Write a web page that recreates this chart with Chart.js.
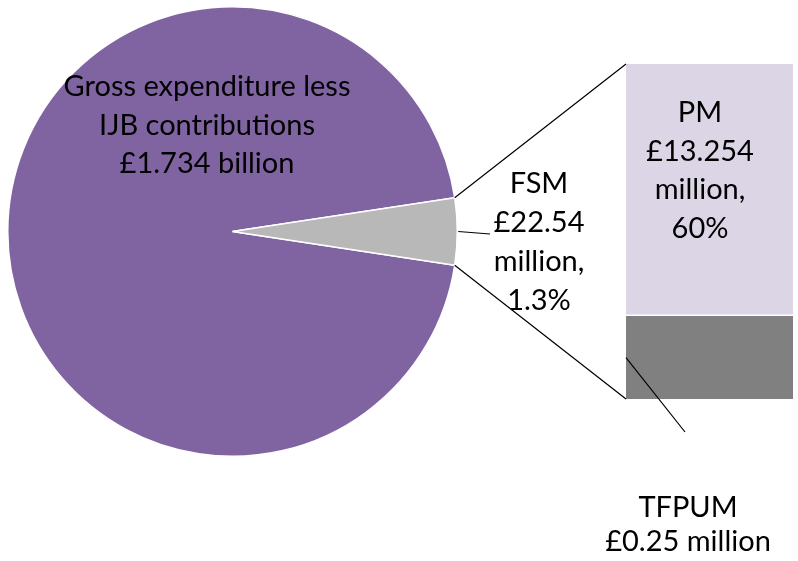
<!DOCTYPE html>
<html>
<head>
<meta charset="utf-8">
<script src="https://cdn.jsdelivr.net/npm/chart.js@4/dist/chart.umd.min.js"></script>
<style>
  html, body { margin: 0; padding: 0; background: #ffffff; }
  #wrap { position: relative; width: 798px; height: 561px; }
  canvas { position: absolute; left: 0; top: 0; }
</style>
</head>
<body>
<div id="wrap">
  <canvas id="pie" width="798" height="561"></canvas>
  <canvas id="bar" width="798" height="561"></canvas>
</div>
<script>
// ---- data ----
const pieCategories = ['Gross expenditure less IJB contributions', 'FSM'];
const pieShares = [95.2, 4.8];            // drawn slice sizes (share of circle, %)
const barCategories = ['TFPUM', 'PM'];     // bottom to top
const barShares = [24.7, 75.3];           // drawn segment heights (share of bar, %)

const pieLabelText = [
  ['Gross expenditure less', 'IJB contributions', '£1.734 billion'],
  ['FSM', '£22.54', 'million,', '1.3%']
];
const barLabelText = [
  ['TFPUM', '£0.25 million'],
  ['PM', '£13.254', 'million,', '60%']
];

const pieColors = ['#8064A2', '#B8B8B8'];
const barColors = ['#808080', '#DCD5E6'];
const FONT = '29px Lato, "Liberation Sans", sans-serif';
const LINE_H = 38.5;

const total = pieShares.reduce((a, b) => a + b, 0);
const smallDeg = pieShares[1] / total * 360;

const pieChart = new Chart(document.getElementById('pie'), {
  type: 'pie',
  data: {
    labels: pieCategories,
    datasets: [{
      data: pieShares,
      backgroundColor: pieColors,
      borderColor: '#ffffff',
      borderWidth: 1.5
    }]
  },
  options: {
    responsive: false,
    animation: false,
    rotation: 90 + smallDeg / 2,
    layout: { padding: { left: 6, top: 6, right: 339, bottom: 104 } },
    plugins: { legend: { display: false }, tooltip: { enabled: false } }
  }
});

function drawLines(ctx, lines, cx, firstBaseline, lh) {
  ctx.save();
  ctx.font = FONT;
  ctx.fillStyle = '#000000';
  ctx.textAlign = 'center';
  ctx.textBaseline = 'alphabetic';
  lines.forEach((t, i) => ctx.fillText(t, cx, firstBaseline + i * lh));
  ctx.restore();
}

const overlay = {
  id: 'overlay',
  afterDraw(chart) {
    const ctx = chart.ctx;
    const arcs = pieChart.getDatasetMeta(0).data;
    const small = arcs[1];
    const cx = small.x, cy = small.y, r = small.outerRadius;
    const p1 = { x: cx + r * Math.cos(small.startAngle), y: cy + r * Math.sin(small.startAngle) };
    const p2 = { x: cx + r * Math.cos(small.endAngle), y: cy + r * Math.sin(small.endAngle) };
    const top = [p1, p2].sort((a, b) => a.y - b.y);

    const meta0 = chart.getDatasetMeta(0).data[0];
    const meta1 = chart.getDatasetMeta(1).data[0];
    const barLeft = meta1.x - meta1.width / 2;
    const barTop = meta1.y;
    const barBottom = meta0.base;

    ctx.save();
    ctx.strokeStyle = '#000000';
    ctx.lineWidth = 1.2;
    ctx.beginPath();
    ctx.moveTo(top[0].x, top[0].y); ctx.lineTo(barLeft, barTop);
    ctx.moveTo(top[1].x, top[1].y); ctx.lineTo(barLeft, barBottom);
    // FSM leader
    const mid = (small.startAngle + small.endAngle) / 2;
    ctx.moveTo(cx + (r + 1) * Math.cos(mid), cy + (r + 1) * Math.sin(mid));
    ctx.lineTo(490, 234);
    // TFPUM leader
    ctx.moveTo(barLeft, (meta0.y + meta0.base) / 2);
    ctx.lineTo(685, 432);
    ctx.stroke();
    ctx.restore();

    drawLines(ctx, pieLabelText[0], 207, 96, LINE_H);
    drawLines(ctx, pieLabelText[1], 539, 193, 39);
    drawLines(ctx, barLabelText[1], 700, 122, LINE_H);
    drawLines(ctx, barLabelText[0], 688, 517, 34);
  }
};

new Chart(document.getElementById('bar'), {
  type: 'bar',
  data: {
    labels: [''],
    datasets: barCategories.map((name, i) => ({
      label: name,
      data: [barShares[i]],
      backgroundColor: barColors[i],
      borderColor: '#ffffff',
      borderWidth: i === 1 ? { top: 0, right: 0, bottom: 2, left: 0 } : 0,
      borderSkipped: false,
      barPercentage: 1,
      categoryPercentage: 1
    }))
  },
  options: {
    responsive: false,
    animation: false,
    layout: { padding: { left: 626, right: 5, top: 64, bottom: 162 } },
    scales: {
      x: { stacked: true, display: false },
      y: { stacked: true, display: false, min: 0, max: 100 }
    },
    plugins: { legend: { display: false }, tooltip: { enabled: false } }
  },
  plugins: [overlay]
});
</script>
</body>
</html>
